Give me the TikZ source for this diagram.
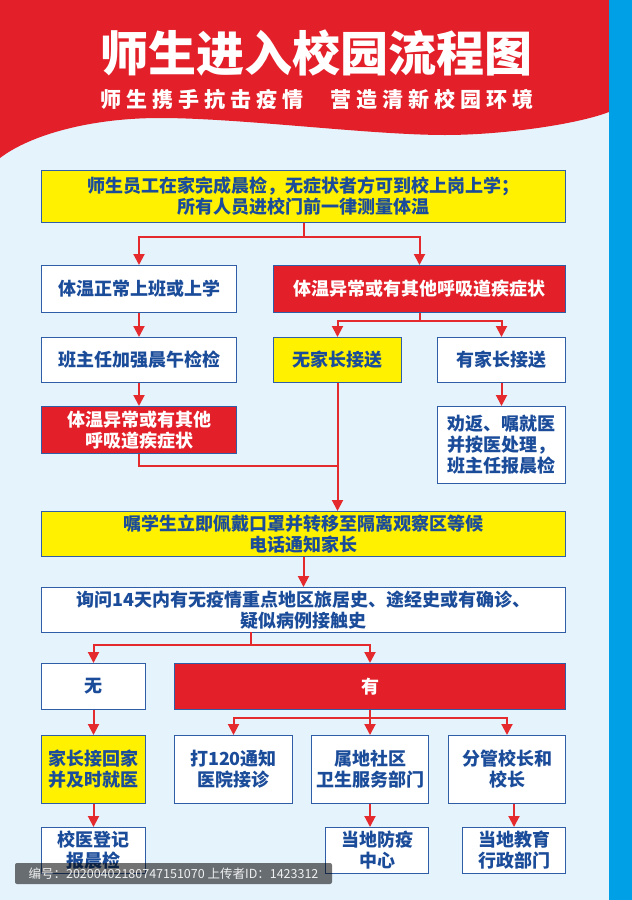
\documentclass[tikz,border=0pt]{standalone}
\usepackage{fontspec}
\newfontfamily\cjk{Noto Sans CJK SC}
\usetikzlibrary{arrows.meta}
\definecolor{bgblue}{HTML}{E5F3FC}
\definecolor{stripblue}{HTML}{00A0E6}
\definecolor{headred}{HTML}{E3202A}
\definecolor{boxred}{HTML}{E3202A}
\definecolor{boxyellow}{HTML}{FFF100}
\definecolor{bordercol}{HTML}{2F5DA6}
\definecolor{txtblue}{HTML}{1B4C9A}
\definecolor{arrred}{HTML}{E52A2E}
\begin{document}
\begin{tikzpicture}[x=1pt,y=-1pt,
  box/.style={draw=bordercol, line width=1pt, text=txtblue, align=center,
    inner sep=0pt, anchor=north west,
    font=\cjk\bfseries\fontsize{18}{21}\selectfont},
  wbox/.style={box, fill=white},
  ybox/.style={box, fill=boxyellow},
  rbox/.style={box, fill=boxred, text=white},
  arr/.style={draw=arrred, line width=2pt, -{Triangle[length=11pt,width=11pt]}},
  ln/.style={draw=arrred, line width=2pt}]
% background
\fill[bgblue] (0,0) rectangle (632,900);
\useasboundingbox (0,0) rectangle (632,900);
% red header with wave
\fill[headred] (0,0) -- (609,0) -- (609,112)
  .. controls (575,125) and (500,135) .. (445,135)
  .. controls (370,135) and (240,118) .. (160,118)
  .. controls (90,118) and (30,135) .. (0,158) -- cycle;
\fill[stripblue] (609,0) rectangle (632,900);
% titles
\node[text=white, font=\cjk\bfseries\fontsize{48}{50}\selectfont] (title) at (316,53) {师生进入校园流程图};
\node[text=white, font=\cjk\bfseries\fontsize{21}{22}\selectfont] (sub1) at (202,99)
  {师\kern5pt 生\kern5pt 携\kern5pt 手\kern5pt 抗\kern5pt 击\kern5pt 疫\kern5pt 情};
\node[text=white, font=\cjk\bfseries\fontsize{21}{22}\selectfont] (sub2) at (432,99)
  {营\kern5pt 造\kern5pt 清\kern5pt 新\kern5pt 校\kern5pt 园\kern5pt 环\kern5pt 境};
% boxes
\node[ybox, minimum width=524pt, minimum height=52pt] (b1) at (41,170)
  {师生员工在家完成晨检，无症状者方可到校上岗上学；\\所有人员进校门前一律测量体温};
\node[wbox, minimum width=195pt, minimum height=47pt] (b2) at (41,265) {体温正常上班或上学};
\node[rbox, minimum width=292pt, minimum height=47pt] (b3) at (273,265) {体温异常或有其他呼吸道疾症状};
\node[wbox, minimum width=195pt, minimum height=45pt] (b4) at (41,337) {班主任加强晨午检检};
\node[ybox, minimum width=128pt, minimum height=45pt] (b5) at (273,337) {无家长接送};
\node[wbox, minimum width=128pt, minimum height=45pt] (b6) at (437,337) {有家长接送};
\node[rbox, minimum width=195pt, minimum height=47pt] (b7) at (41,406) {体温异常或有其他\\呼吸道疾症状};
\node[wbox, minimum width=128pt, minimum height=77pt] (b8) at (437,406) {劝返、嘱就医\\并按医处理，\\班主任报晨检};
\node[ybox, minimum width=524pt, minimum height=45pt] (b9) at (41,511)
  {嘱学生立即佩戴口罩并转移至隔离观察区等候\\电话通知家长};
\node[wbox, minimum width=524pt, minimum height=45pt] (b10) at (41,587)
  {询问14天内有无疫情重点地区旅居史、途经史或有确诊、\\疑似病例接触史};
\node[wbox, minimum width=104pt, minimum height=46pt] (b11) at (41,663) {无};
\node[rbox, minimum width=391pt, minimum height=46pt] (b12) at (174,663) {有};
\node[ybox, minimum width=104pt, minimum height=68pt] (b13) at (41,735) {家长接回家\\并及时就医};
\node[wbox, minimum width=118pt, minimum height=68pt] (b14) at (174,735) {打120通知\\医院接诊};
\node[wbox, minimum width=117pt, minimum height=68pt] (b15) at (311,735) {属地社区\\卫生服务部门};
\node[wbox, minimum width=117pt, minimum height=68pt] (b16) at (448,735) {分管校长和\\校长};
\node[wbox, minimum width=104pt, minimum height=46pt] (b17) at (41,827) {校医登记\\报晨检};
\node[wbox, minimum width=103pt, minimum height=46pt] (b18) at (325,827) {当地防疫\\中心};
\node[wbox, minimum width=103pt, minimum height=46pt] (b19) at (462,827) {当地教育\\行政部门};
% connectors
\draw[arr] (b1.south) -- ++(0,14) -| (b2.north);
\draw[arr] (b1.south) -- ++(0,14) -| (b3.north);
\draw[arr] (b2) -- (b4);
\draw[arr] (b4) -- (b7);
\draw[arr] (b3.south) -- ++(0,8) -| (b5.north);
\draw[arr] (b3.south) -- ++(0,8) -| (b6.north);
\draw[arr] (b6) -- (b8);
\draw[ln] (b7.south) -- ++(0,12) -| (b5.south);
\draw[arr] (b5.south) -- (b5.south |- b9.north);
\draw[arr] (b9) -- (b10);
\coordinate (s10) at (251,632);
\draw[arr] (s10) -- ++(0,13) -| (b11.north);
\draw[arr] (s10) -- ++(0,13) -| (b12.north);
\draw[arr] (b11) -- (b13);
\draw[arr] (b13) -- (b17);
\draw[arr] (b12.south) -- ++(0,8) -| (b14.north);
\draw[arr] (b12.south) -- ++(0,8) -| (b16.north);
\draw[arr] (b12.south) -- (b15.north);
\draw[arr] (b15.south) -- (b15.south |- b18.north);
\draw[arr] (b19.north |- b16.south) -- (b19.north);
% footer watermark bar
\node[fill=black, fill opacity=0.55, text opacity=1, text=white!88!gray,
  rounded corners=2pt, minimum width=317pt, minimum height=21pt, inner sep=0pt,
  font=\cjk\fontsize{12.5}{14}\selectfont] (foot) at (173.5,873.5)
  {编号：20200402180747151070 上传者ID：1423312};
\end{tikzpicture}
\end{document}
